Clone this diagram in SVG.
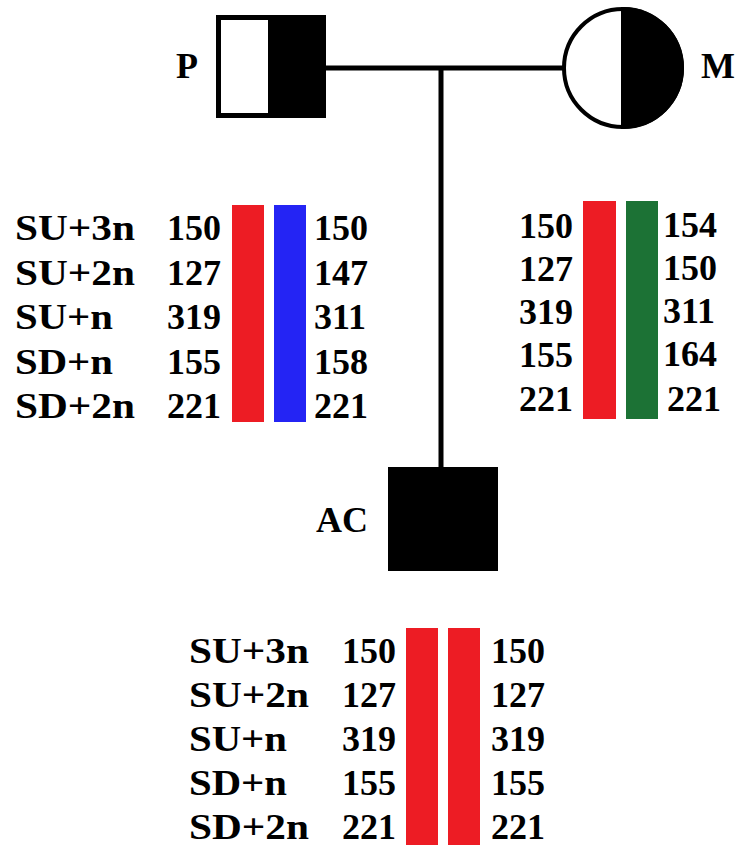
<svg xmlns="http://www.w3.org/2000/svg" width="740" height="847" viewBox="0 0 740 847">
  <style>
    text { font-family: "Liberation Serif", "Times New Roman", serif; font-weight: bold; font-size: 36px; fill: #000; }
    .line { stroke: #000; stroke-width: 5; fill: none; }
    .red { fill: #ED1C24; }
    .blue { fill: #2424F4; }
    .green { fill: #1C7235; }
  </style>
  <defs>
    <clipPath id="rightHalf">
      <rect x="621" y="0" width="80" height="140"/>
    </clipPath>
  </defs>

  <rect width="740" height="847" fill="#fff"/>

  <!-- pedigree lines -->
  <g id="connectors">
    <line class="line" x1="324" y1="68" x2="564" y2="68"/>
    <line class="line" x1="441" y1="68" x2="441" y2="469"/>
  </g>

  <!-- father: half-shaded square -->
  <g id="P">
    <rect x="218.5" y="17.5" width="105" height="98" fill="#fff" stroke="#000" stroke-width="5"/>
    <rect x="268" y="17.5" width="56" height="98" fill="#000"/>
    <text x="176" y="78">P</text>
  </g>

  <!-- mother: half-shaded circle -->
  <g id="M">
    <circle cx="623" cy="68" r="59" fill="#fff" stroke="#000" stroke-width="4"/>
    <circle cx="623" cy="68" r="61" fill="#000" clip-path="url(#rightHalf)"/>
    <text x="701" y="78">M</text>
  </g>

  <!-- affected child -->
  <g id="AC">
    <rect x="388" y="467" width="110" height="104" fill="#000"/>
    <text x="316" y="532">AC</text>
  </g>

  <!-- father's haplotypes -->
  <g id="P-haplotypes">
    <rect class="red" x="232" y="205" width="32" height="217"/>
    <rect class="blue" x="274" y="205" width="32" height="217"/>
    <text x="15" y="240" textLength="120" lengthAdjust="spacingAndGlyphs">SU+3n</text>
    <text x="15" y="284.5" textLength="120" lengthAdjust="spacingAndGlyphs">SU+2n</text>
    <text x="15" y="329" textLength="98" lengthAdjust="spacingAndGlyphs">SU+n</text>
    <text x="15" y="373.5" textLength="98" lengthAdjust="spacingAndGlyphs">SD+n</text>
    <text x="15" y="418" textLength="120" lengthAdjust="spacingAndGlyphs">SD+2n</text>
    <text x="167" y="240">150</text>
    <text x="167" y="284.5">127</text>
    <text x="167" y="329">319</text>
    <text x="167" y="373.5">155</text>
    <text x="167" y="418">221</text>
    <text x="314" y="240">150</text>
    <text x="314" y="284.5">147</text>
    <text x="314" y="329">311</text>
    <text x="314" y="373.5">158</text>
    <text x="314" y="418">221</text>
  </g>

  <!-- mother's haplotypes -->
  <g id="M-haplotypes">
    <rect class="red" x="583" y="201" width="33" height="218"/>
    <rect class="green" x="626" y="201" width="32" height="218"/>
    <text x="519" y="238">150</text>
    <text x="519" y="281">127</text>
    <text x="519" y="323.5">319</text>
    <text x="519" y="367">155</text>
    <text x="519" y="411">221</text>
    <text x="663" y="237">154</text>
    <text x="663" y="280">150</text>
    <text x="663" y="322.5">311</text>
    <text x="663" y="365.5">164</text>
    <text x="667" y="411">221</text>
  </g>

  <!-- child's haplotypes -->
  <g id="AC-haplotypes">
    <rect class="red" x="406" y="628" width="32" height="217"/>
    <rect class="red" x="448" y="628" width="32" height="217"/>
    <text x="189" y="663" textLength="120" lengthAdjust="spacingAndGlyphs">SU+3n</text>
    <text x="189" y="707" textLength="120" lengthAdjust="spacingAndGlyphs">SU+2n</text>
    <text x="189" y="751" textLength="98" lengthAdjust="spacingAndGlyphs">SU+n</text>
    <text x="189" y="795" textLength="98" lengthAdjust="spacingAndGlyphs">SD+n</text>
    <text x="189" y="839" textLength="120" lengthAdjust="spacingAndGlyphs">SD+2n</text>
    <text x="342" y="663">150</text>
    <text x="342" y="707">127</text>
    <text x="342" y="751">319</text>
    <text x="342" y="795">155</text>
    <text x="342" y="839">221</text>
    <text x="491" y="663">150</text>
    <text x="491" y="707">127</text>
    <text x="491" y="751">319</text>
    <text x="491" y="795">155</text>
    <text x="491" y="839">221</text>
  </g>
</svg>
